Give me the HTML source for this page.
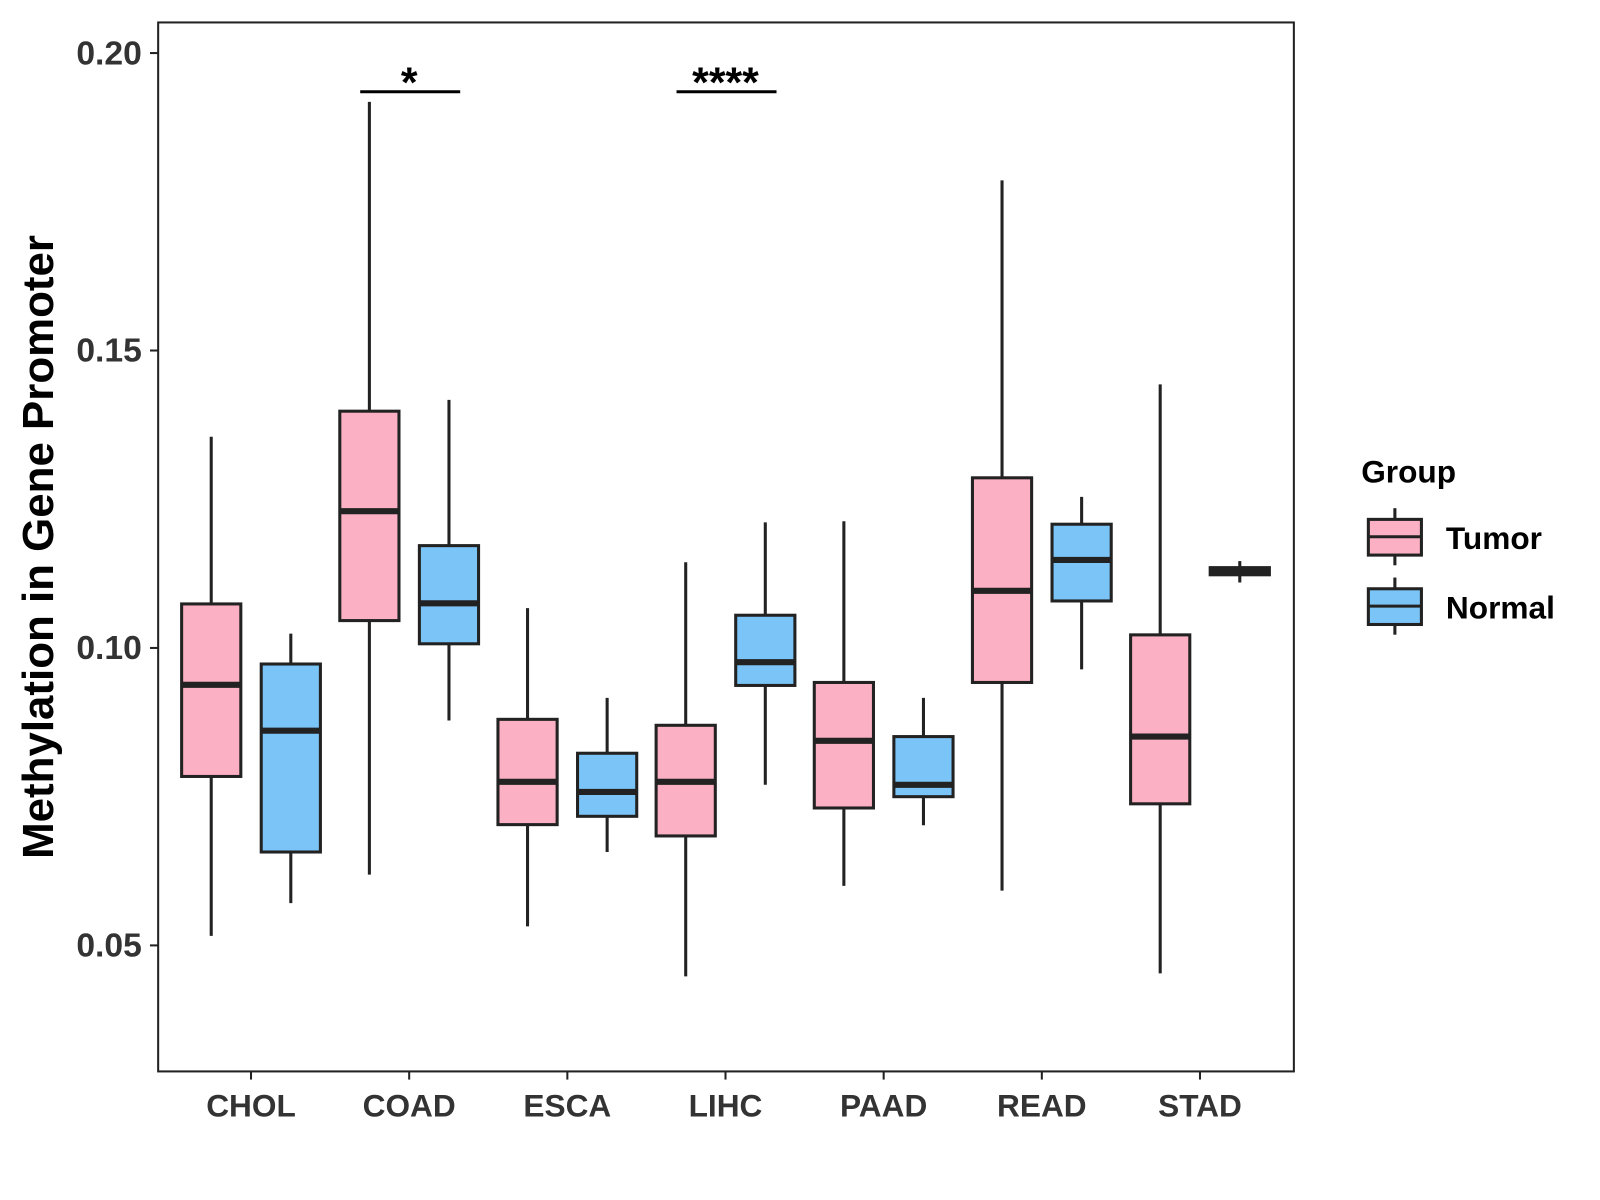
<!DOCTYPE html>
<html><head><meta charset="utf-8"><style>
html,body{margin:0;padding:0;background:#fff;}
svg{display:block;font-family:"Liberation Sans",Arial,sans-serif;}
</style></head><body>
<svg id="chart" width="1600" height="1200" viewBox="0 0 1600 1200">
<rect x="0" y="0" width="1600" height="1200" fill="#fff"/>
<g transform="scale(1.0204)">
<rect x="155" y="22" width="1113" height="1028" fill="none" stroke="#222" stroke-width="2"/>
<g id="yaxis"></g>
<g id="xaxis"></g>
<g id="boxes"></g>
<g id="sig"></g>
<text x="52" y="536" transform="rotate(-90 52 536)" text-anchor="middle" font-size="43" font-weight="bold" fill="#000">Methylation in Gene Promoter</text>
<g>
<text x="1334" y="473" font-size="31" font-weight="bold">Group</text>
<g>
<line x1="1367" y1="498" x2="1367" y2="554" stroke="#222" stroke-width="3"/>
<rect x="1341" y="509" width="52" height="35" fill="#FBB0C3" stroke="#222" stroke-width="3"/>
<line x1="1341" y1="526" x2="1393" y2="526" stroke="#222" stroke-width="3"/>
<text x="1417" y="538" font-size="31" font-weight="bold">Tumor</text></g>
<g>
<line x1="1367" y1="566" x2="1367" y2="622" stroke="#222" stroke-width="3"/>
<rect x="1341" y="577" width="52" height="35" fill="#7BC4F7" stroke="#222" stroke-width="3"/>
<line x1="1341" y1="594" x2="1393" y2="594" stroke="#222" stroke-width="3"/>
<text x="1417" y="606" font-size="31" font-weight="bold">Normal</text></g>
</g>
</g>
</svg>
<script>
const categories=["CHOL","COAD","ESCA","LIHC","PAAD","READ","STAD"];
// [low, q1, median, q3, high]
const tumorStats=[[0.0516,0.0784,0.0938,0.1074,0.1355],[0.0619,0.1046,0.1230,0.1398,0.1918],[0.0532,0.0703,0.0775,0.0880,0.1067],[0.0448,0.0684,0.0775,0.0870,0.1144],[0.0600,0.0731,0.0844,0.0942,0.1213],[0.0592,0.0942,0.1096,0.1286,0.1786],[0.0453,0.0738,0.0851,0.1022,0.1443]];
const normalStats=[[0.0571,0.0657,0.0861,0.0973,0.1024],[0.0878,0.1007,0.1075,0.1172,0.1417],[0.0657,0.0717,0.0758,0.0823,0.0916],[0.0770,0.0937,0.0976,0.1055,0.1211],[0.0702,0.0750,0.0770,0.0851,0.0916],[0.0964,0.1079,0.1148,0.1208,0.1254],[0.1110,0.1123,0.1129,0.1135,0.1146]];
const yTicks=[0.05,0.10,0.15,0.20];
const yTickLabels=["0.05","0.10","0.15","0.20"];
const sigCats=["COAD","LIHC"];
const sigLabels=["*","****"];
const sigLevel=0.1935;

const NS="http://www.w3.org/2000/svg";
function y(v){return 635-(v-0.10)*5830;}
function x(i){return 246+i*155;}
function mk(tag,attrs,parent){const e=document.createElementNS(NS,tag);for(const k in attrs)e.setAttribute(k,attrs[k]);parent.appendChild(e);return e;}
const ya=document.getElementById('yaxis'),xa=document.getElementById('xaxis'),bx=document.getElementById('boxes'),sg=document.getElementById('sig');
yTicks.forEach((t,i)=>{
  const l=mk('line',{x1:147,x2:155,y1:y(t),y2:y(t),stroke:'#222','stroke-width':2},ya);
  
  
  const tx=mk('text',{x:139,y:y(t)+11,'text-anchor':'end','font-size':33,'font-weight':'bold',fill:'#333'},ya);
  tx.textContent=yTickLabels[i];
  
  
});
categories.forEach((c,i)=>{
  const l=mk('line',{x1:x(i),x2:x(i),y1:1050,y2:1058,stroke:'#222','stroke-width':2},xa);
  
  
  const tx=mk('text',{x:x(i),y:1094,'text-anchor':'middle','font-size':31,'font-weight':'bold',fill:'#333'},xa);
  tx.textContent=c;
  
  
});
function drawBox(s,cx,fill,name){
  const g=mk('g',{},bx);
  
  
  mk('line',{x1:cx,x2:cx,y1:y(s[4]),y2:y(s[0]),stroke:'#222','stroke-width':3},g);
  mk('rect',{x:cx-29,y:y(s[3]),width:58,height:Math.max(y(s[1])-y(s[3]),1),fill:fill,stroke:'#222','stroke-width':3},g);
  mk('line',{x1:cx-29,x2:cx+29,y1:y(s[2]),y2:y(s[2]),stroke:'#222','stroke-width':6},g);
}
categories.forEach((c,i)=>{
  drawBox(tumorStats[i],x(i)-39,'#FBB0C3','box-tumor-'+c.toLowerCase());
  drawBox(normalStats[i],x(i)+39,'#7BC4F7','box-normal-'+c.toLowerCase());
});
sigCats.forEach((c,k)=>{
  const i=categories.indexOf(c);
  const l=mk('line',{x1:x(i)-48,x2:x(i)+50,y1:y(sigLevel),y2:y(sigLevel),stroke:'#000','stroke-width':3},sg);
  
  
  const t=mk('text',{x:x(i),y:y(sigLevel)+5,'text-anchor':'middle','font-size':42,'font-weight':'bold',fill:'#000'},sg);
  t.textContent=sigLabels[k];
  
  
});
</script>
</body></html>
